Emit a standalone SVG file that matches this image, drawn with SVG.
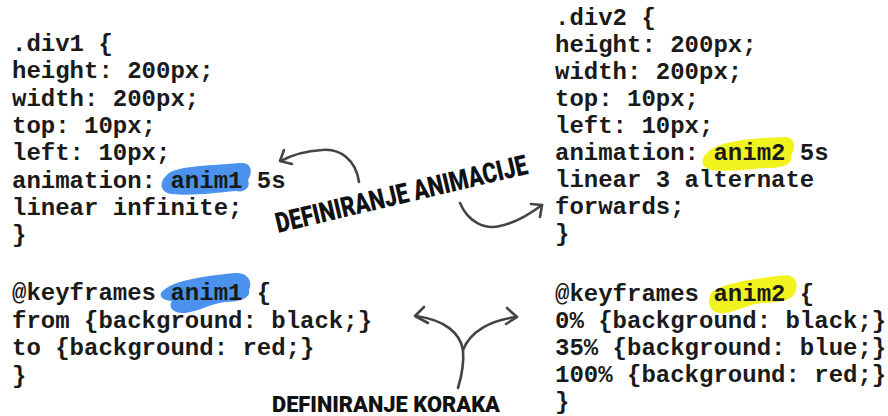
<svg xmlns="http://www.w3.org/2000/svg" width="888" height="416" viewBox="0 0 888 416">
<style>
.code{font-family:"Liberation Mono","Courier New",monospace;font-weight:bold;font-size:24px;fill:#1a1a1a;white-space:pre}
.lbl{font-family:Roboto,"Liberation Sans",sans-serif;font-weight:900;fill:#111}
.blue{fill:#4a92ee}
.yel{fill:#f2f21e}
.arr{fill:none;stroke:#444;stroke-width:2.6;stroke-linecap:round;stroke-linejoin:round}
</style>
<rect width="888" height="416" fill="#fff"/>
<g id="highlights">
<path class="blue" d="M166,176 C172,166 205,166 240,163 C252,162 253,172 248,180 C251,188 244,193 236,191 C215,193 190,196 172,194 C160,193 159,182 166,176 Z"/>
<path class="blue" d="M164,290 C175,280 205,276 235,273 C248,272 253,282 249,290 C251,298 240,302 225,302 C210,304 200,311 185,313 C172,314 168,306 172,301 C160,300 158,294 164,290 Z"/>
<path class="yel" d="M708,152 C720,140 760,138 785,137 C796,138 796,148 791,156 C793,166 780,168 765,168 C745,170 725,172 712,170 C700,168 700,158 708,152 Z"/>
<path class="yel" d="M712,292 C725,282 760,278 786,275 C798,276 799,288 793,296 C786,303 770,302 755,304 C740,308 728,315 718,313 C708,310 707,300 712,292 Z"/>
</g>
<g id="div1">
<text class="code" x="12" y="51">.div1 {</text>
<text class="code" x="12" y="78.3">height: 200px;</text>
<text class="code" x="12" y="105.6">width: 200px;</text>
<text class="code" x="12" y="132.9">top: 10px;</text>
<text class="code" x="12" y="160.2">left: 10px;</text>
<text class="code" x="12" y="187.5">animation: anim1 5s</text>
<text class="code" x="12" y="214.8">linear infinite;</text>
<text class="code" x="12" y="242">}</text>
</g>
<g id="div2">
<text class="code" x="555" y="25">.div2 {</text>
<text class="code" x="555" y="52">height: 200px;</text>
<text class="code" x="555" y="79">width: 200px;</text>
<text class="code" x="555" y="106">top: 10px;</text>
<text class="code" x="555" y="133">left: 10px;</text>
<text class="code" x="555" y="160">animation: anim2 5s</text>
<text class="code" x="555" y="187">linear 3 alternate</text>
<text class="code" x="555" y="214">forwards;</text>
<text class="code" x="555" y="241">}</text>
</g>
<g id="keyframes1">
<text class="code" x="12" y="300">@keyframes anim1 {</text>
<text class="code" x="12" y="327.5">from {background: black;}</text>
<text class="code" x="12" y="355">to {background: red;}</text>
<text class="code" x="12" y="382.5">}</text>
</g>
<g id="keyframes2">
<text class="code" x="555" y="301">@keyframes anim2 {</text>
<text class="code" x="555" y="328">0% {background: black;}</text>
<text class="code" x="555" y="355">35% {background: blue;}</text>
<text class="code" x="555" y="382">100% {background: red;}</text>
<text class="code" x="555" y="409">}</text>
</g>
<g id="label-animacije">
<text class="lbl" font-size="28" x="0" y="0" textLength="258" lengthAdjust="spacingAndGlyphs" transform="translate(278,233) rotate(-13.3)">DEFINIRANJE ANIMACIJE</text>
</g>
<g id="label-koraka">
<text class="lbl" font-size="22" x="272" y="412" textLength="228" lengthAdjust="spacingAndGlyphs">DEFINIRANJE KORAKA</text>
</g>
<g id="connectors">
<path class="arr" d="M359,182 C356,160 340,148 322,150 C305,151 290,156 281,161"/>
<path class="arr" d="M284,150 L280,161 L292,164"/>
<path class="arr" d="M460,203 C468,222 485,230 500,226 C515,223 530,214 542,205"/>
<path class="arr" d="M531,204 L542,205 L540,217"/>
<path class="arr" d="M458,388 C462,375 464,362 463,350 C460,333 445,320 416,316"/>
<path class="arr" d="M463,350 C470,332 490,320 517,317"/>
<path class="arr" d="M424,307 L415,316 L428,323"/>
<path class="arr" d="M507,308 L517,317 L506,324"/>
</g>
</svg>
